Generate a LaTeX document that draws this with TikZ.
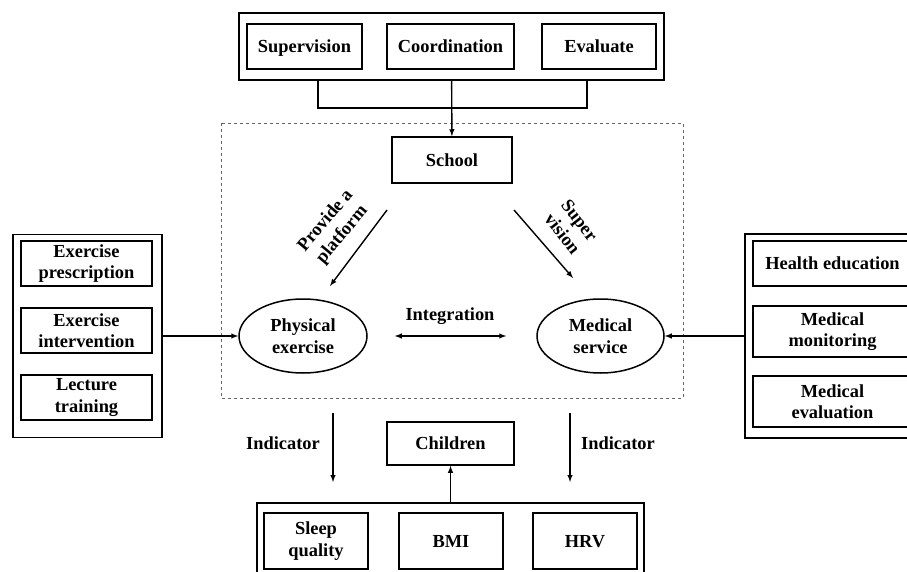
\documentclass[tikz,border=0pt]{standalone}
\usepackage{fontspec}
\setmainfont{Liberation Serif}
\usetikzlibrary{shapes}
\usetikzlibrary{calc}

\tikzset{
  txt/.style={font=\fontsize{18.4}{21.5}\selectfont\bfseries},
  box/.style={txt, draw, rectangle, line width=1.5pt, align=center, inner sep=0pt},
  one/.style={text height=12.5pt, text depth=0pt},
  frame/.style={draw, rectangle, line width=1.5pt, inner sep=0pt},
  oval/.style={txt, draw, ellipse, line width=1.5pt, align=center, inner sep=0pt},
  lbl/.style={txt, align=center},
  arr/.style={->, line width=1.4pt},
}

\begin{document}
\begin{tikzpicture}[x=1pt, y=-1pt, >=latex]
  \useasboundingbox (0,0) rectangle (907,572);
  \clip (0,0) rectangle (907,572);

  \draw[dashed, gray!80!black, line width=0.7pt] (221,123) rectangle (683,398);

  \node[frame, minimum width=425, minimum height=67] (top) at (451.5,46.5) {};
  \node[box, one, minimum width=115, minimum height=45] (superv) at (304.5,46.5) {Supervision};
  \node[box, one, minimum width=127, minimum height=45] (coord) at (450.5,46.5) {Coordination};
  \node[box, one, minimum width=114, minimum height=45] (eval) at (599,46.5) {Evaluate};

  \node[box, one, minimum width=120, minimum height=46] (school) at (452,160) {School};

  \coordinate (jl) at (318,108);
  \coordinate (jr) at (587,108);
  \draw[line width=1.4pt] (top.south -| jl) -- (jl) -- (jr) -- (top.south -| jr);
  \path[arr] (top) edge (school);

  \node[oval, minimum width=128, minimum height=74] (phys) at (303,336) {Physical\\exercise};
  \node[oval, minimum width=127, minimum height=74] (med) at (600.5,336) {Medical\\service};

  \coordinate (pa) at (387,210);
  \coordinate (pb) at (330,286);
  \coordinate (sa) at (514,210);
  \coordinate (sb) at (573,278);
  \path[arr] (pa) edge (pb);
  \path[arr] (sa) edge (sb);
  \node[lbl, rotate=50] (platform) at (334,228) {Provide a\\platform};
  \node[lbl, rotate=-52] (supvis) at (571,227) {Super\\vision};

  \node[lbl] (integ) at (450,316) {Integration};
  \draw[<->, line width=1.4pt, shorten <=27pt, shorten >=30pt] (phys) -- (med);

  \node[frame, minimum width=149, minimum height=203] (left) at (87.5,336) {};
  \node[box, minimum width=131, minimum height=45] (presc) at (86.5,263.5) {Exercise\\prescription};
  \node[box, minimum width=131, minimum height=45] (interv) at (86.5,330.5) {Exercise\\intervention};
  \node[box, minimum width=131, minimum height=45] (lect) at (86.5,397.5) {Lecture\\training};
  \path[arr] (left) edge (phys);

  \node[frame, minimum width=170, minimum height=204] (right) at (830,336) {};
  \node[box, one, minimum width=159, minimum height=45] (health) at (832.5,263.5) {Health education};
  \node[box, minimum width=159, minimum height=51] (monit) at (832.5,331.5) {Medical\\monitoring};
  \node[box, minimum width=159, minimum height=51] (meval) at (832.5,401.5) {Medical\\evaluation};
  \path[arr] (right) edge (med);

  \coordinate (ia) at (333,413);
  \coordinate (ib) at (333,482);
  \coordinate (ic) at (570,413);
  \coordinate (id) at (570,482);
  \path[arr] (ia) edge (ib);
  \path[arr] (ic) edge (id);
  \node[lbl] (indl) at (283,443) {Indicator};
  \node[lbl] (indr) at (618,443) {Indicator};

  \node[box, one, minimum width=127, minimum height=43] (child) at (450.5,443.5) {Children};

  \node[frame, minimum width=387, minimum height=80] (bottom) at (450.5,543) {};
  \node[box, minimum width=104, minimum height=56] (sleep) at (316,541) {Sleep\\quality};
  \node[box, one, minimum width=104, minimum height=56] (bmi) at (451,541) {BMI};
  \node[box, one, minimum width=104, minimum height=56] (hrv) at (585,541) {HRV};
  \path[arr] (bottom) edge (child);
\end{tikzpicture}
\end{document}
